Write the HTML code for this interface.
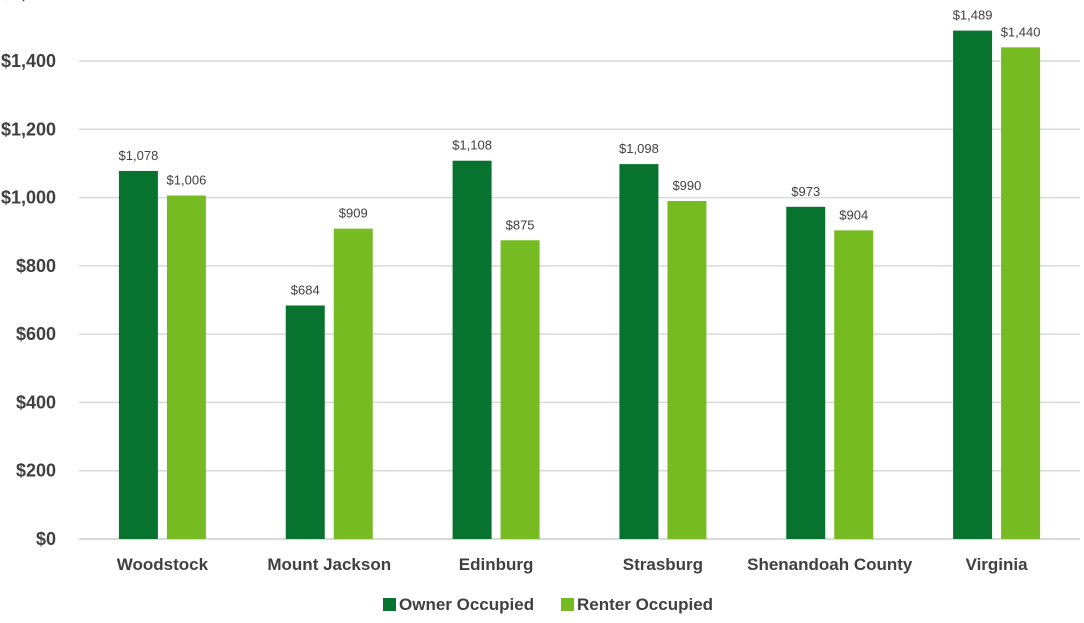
<!DOCTYPE html>
<html><head><meta charset="utf-8"><style>
body{margin:0;background:#fff;width:1084px;height:618px;overflow:hidden;font-family:"Liberation Sans",sans-serif}
</style></head><body>
<svg id="chart" width="1084" height="618" xmlns="http://www.w3.org/2000/svg"></svg>
<script>
const categories=["Woodstock","Mount Jackson","Edinburg","Strasburg","Shenandoah County","Virginia"];
const ownerValues=[1078,684,1108,1098,973,1489];
const renterValues=[1006,909,875,990,904,1440];
const tickValues=[0,200,400,600,800,1000,1200,1400,1600];
const NS="http://www.w3.org/2000/svg";
const svg=document.getElementById('chart');
const y0=539,pxPer=(539-61)/1400;
const yScale=v=>y0-v*pxPer;
const xLeft=79,xRight=1080,band=(xRight-xLeft)/categories.length;
const xCenter=i=>xLeft+band*(i+0.5);
const bw=39,gap=9;
const fmt=v=>'$'+v.toLocaleString('en-US');
function el(tag,attrs,text){const e=document.createElementNS(NS,tag);for(const k in attrs)e.setAttribute(k,attrs[k]);if(text!==undefined)e.textContent=text;svg.appendChild(e);return e;}
tickValues.forEach(v=>{
  const y=yScale(v);
  const g=el('line',{x1:xLeft,x2:xRight,y1:y,y2:y,stroke:'#d9d9d9','stroke-width':v===0?2:1.5});
  
  
  const t=el('text',{x:56,y:y+6,'text-anchor':'end','font-size':18,fill:'#404040','font-weight':'bold'},fmt(v));
  
  
});
categories.forEach((c,i)=>{
  const cx=xCenter(i);
  [[ownerValues[i],'#08722f',cx-gap/2-bw],[renterValues[i],'#77bb22',cx+gap/2]].forEach(([v,col,x],j)=>{
    const r=el('rect',{x:x,y:yScale(v),width:bw,height:y0-yScale(v),fill:col});
    
    
    const t=el('text',{x:x+bw/2,y:yScale(v)-11,'text-anchor':'middle','font-size':13,fill:'#404040'},fmt(v));
    
    
  });
  const l=el('text',{x:cx,y:570,'text-anchor':'middle','font-size':17,'font-weight':'bold',fill:'#404040'},c);
  
  
});
[['Owner Occupied','#08722f',383],['Renter Occupied','#77bb22',561]].forEach(([n,c,x])=>{
  const r=el('rect',{x:x,y:598,width:13,height:13,fill:c});
  
  
  const t=el('text',{x:x+16,y:610,'font-size':17,'font-weight':'bold',fill:'#404040'},n);
  
  
});
</script>
</body></html>
